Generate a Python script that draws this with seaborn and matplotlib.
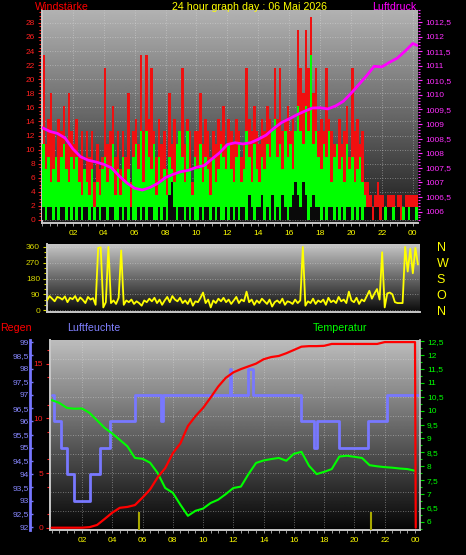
import numpy as np
import matplotlib
matplotlib.use("Agg")
import matplotlib.pyplot as plt
from matplotlib.ticker import FixedLocator, FuncFormatter, MultipleLocator
import seaborn as sns

# ---- wind, 10 minute values (km/h) ----
wind_gust = [
    23.4, 10.8, 14.4, 18.0, 12.6, 9.0,
    14.4, 12.6, 16.2, 10.8, 18.0, 12.6,
    10.8, 14.4, 9.0, 12.6, 7.2, 12.6,
    9.0, 12.6, 5.4, 10.8, 7.2, 9.0,
    21.6, 10.8, 12.6, 16.2, 9.0, 12.6,
    7.2, 12.6, 9.0, 18.0, 5.4, 12.6,
    14.4, 10.8, 23.4, 12.6, 23.4, 14.4,
    21.6, 12.6, 9.0, 14.4, 10.8, 12.6,
    7.2, 18.0, 10.8, 14.4, 9.0, 12.6,
    21.6, 10.8, 14.4, 12.6, 5.4, 12.6,
    12.6, 18.0, 10.8, 14.4, 12.6, 9.0,
    12.6, 10.8, 14.4, 12.6, 16.2, 10.8,
    14.4, 12.6, 10.8, 14.4, 12.6, 9.0,
    10.8, 21.6, 14.4, 12.6, 16.2, 12.6,
    10.8, 14.4, 12.6, 16.2, 14.4, 12.6,
    21.6, 14.4, 21.6, 12.6, 14.4, 16.2,
    12.6, 14.4, 10.8, 27.0, 21.6, 18.0,
    27.0, 21.6, 28.8, 18.0, 21.6, 12.6,
    14.4, 12.6, 21.6, 14.4, 12.6, 10.8,
    9.0, 14.4, 10.8, 12.6, 16.2, 9.0,
    21.6, 12.6, 14.4, 10.8, 12.6, 5.4,
    5.4, 3.6, 1.8, 3.6, 5.4, 3.6,
    3.6, 1.8, 3.6, 3.6, 3.6, 1.8,
    3.6, 3.6, 1.8, 3.6, 3.6, 3.6,
    3.6, 3.6,
]
wind_speed = [
    10.8, 7.2, 9.0, 5.4, 7.2, 9.0,
    5.4, 9.0, 10.8, 7.2, 5.4, 9.0,
    7.2, 9.0, 5.4, 3.6, 7.2, 5.4,
    3.6, 7.2, 1.8, 5.4, 3.6, 7.2,
    9.0, 5.4, 7.2, 10.8, 3.6, 7.2,
    3.6, 9.0, 5.4, 7.2, 1.8, 9.0,
    10.8, 7.2, 12.6, 5.4, 12.6, 9.0,
    7.2, 10.8, 3.6, 9.0, 5.4, 7.2,
    3.6, 9.0, 7.2, 5.4, 10.8, 12.6,
    9.0, 5.4, 12.6, 7.2, 3.6, 9.0,
    7.2, 10.8, 5.4, 9.0, 7.2, 3.6,
    9.0, 5.4, 7.2, 10.8, 9.0, 7.2,
    10.8, 7.2, 5.4, 9.0, 10.8, 5.4,
    7.2, 12.6, 9.0, 5.4, 10.8, 7.2,
    5.4, 9.0, 7.2, 10.8, 9.0, 12.6,
    14.4, 9.0, 10.8, 7.2, 12.6, 9.0,
    10.8, 7.2, 12.6, 16.2, 12.6, 10.8,
    16.2, 12.6, 23.4, 10.8, 12.6, 9.0,
    7.2, 10.8, 9.0, 12.6, 5.4, 9.0,
    10.8, 7.2, 9.0, 5.4, 10.8, 7.2,
    9.0, 5.4, 7.2, 9.0, 5.4, 3.6,
    1.8, 0.0, 0.0, 1.8, 0.0, 0.0,
    0.0, 1.8, 0.0, 0.0, 1.8, 0.0,
    0.0, 0.0, 1.8, 0.0, 1.8, 0.0,
    0.0, 1.8,
]
wind_lull = [
    1.8, 0, 1.8, 1.8, 0, 1.8,
    0, 1.8, 1.8, 0, 1.8, 0,
    1.8, 0, 1.8, 0, 1.8, 1.8,
    0, 1.8, 0, 1.8, 0, 1.8,
    1.8, 0, 1.8, 1.8, 0, 0,
    1.8, 0, 1.8, 0, 1.8, 0,
    0, 1.8, 0, 1.8, 0, 1.8,
    1.8, 0, 0, 1.8, 0, 1.8,
    0, 3.6, 5.4, 1.8, 0, 1.8,
    1.8, 0, 1.8, 0, 1.8, 0,
    0, 1.8, 0, 1.8, 1.8, 0,
    1.8, 0, 1.8, 0, 0, 1.8,
    0, 1.8, 0, 1.8, 0, 1.8,
    1.8, 0, 3.6, 1.8, 0, 1.8,
    1.8, 3.6, 0, 1.8, 0, 3.6,
    0, 1.8, 0, 3.6, 1.8, 0,
    1.8, 3.6, 5.4, 3.6, 1.8, 5.4,
    3.6, 0, 1.8, 3.6, 1.8, 1.8,
    0, 1.8, 0, 1.8, 1.8, 0,
    1.8, 0, 1.8, 0, 1.8, 1.8,
    0, 1.8, 0, 1.8, 0, 1.8,
    1.8, 1.8, 0, 1.8, 1.8, 0,
    1.8, 0, 1.8, 1.8, 0, 1.8,
    1.8, 0, 0, 1.8, 0, 1.8,
    1.8, 0,
]

# ---- air pressure, half-hourly (hPa) ----
pressure_hpa = [
    1008.88, 1008.75, 1008.68, 1008.52, 1008.15, 1007.88, 1007.76, 1007.70,
    1007.62, 1007.50, 1007.22, 1006.98, 1006.80, 1006.74, 1006.83, 1006.97,
    1007.17, 1007.28, 1007.37, 1007.42, 1007.52, 1007.58, 1007.80, 1008.02,
    1008.30, 1008.36, 1008.32, 1008.36, 1008.48, 1008.62, 1008.85, 1009.05,
    1009.18, 1009.32, 1009.44, 1009.55, 1009.56, 1009.52, 1009.62, 1009.78,
    1010.05, 1010.35, 1010.65, 1010.98, 1010.96, 1011.12, 1011.26, 1011.50,
    1011.76, 1011.65,
]

# ---- wind direction, 10 minute values (degrees) ----
wind_dir = [
    55, 80, 65, 50, 75, 70,
    60, 78, 45, 70, 62, 80,
    50, 72, 58, 40, 75, 60,
    68, 30, 355, 358, 15, 45,
    360, 40, 55, 35, 70, 340,
    30, 55, 45, 60, 35, 50,
    40, 25, 55, 45, 65, 50,
    70, 40, 60, 30, 55, 75,
    45, 80, 60, 50, 70, 40,
    55, 35, 65, 25, 50, 45,
    70, 100, 40, 60, 15, 55,
    40, 65, 50, 70, 45, 60,
    35, 55, 75, 40, 60, 50,
    105, 45, 60, 30, 55, 40,
    65, 50, 35, 60, 20, 45,
    55, 40, 65, 30, 50, 45,
    35, 60, 40, 55, 360, 25,
    50, 40, 65, 35, 55, 45,
    60, 30, 70, 45, 55, 40,
    75, 50, 60, 40, 105, 55,
    45, 70, 35, 60, 50, 80,
    110, 65, 95, 120, 60, 330,
    15, 95, 100, 90, 45, 40,
    40, 40, 360, 220, 350, 210,
    355, 260,
]

# ---- humidity steps (hour of change, %) ----
hum_hours = [0.05, 0.15, 0.6, 1.0, 1.45, 2.55, 3.2, 3.85, 5.5, 7.25, 7.35,
             11.75, 11.85, 12.95, 13.3, 16.5, 17.3, 17.5, 18.95, 20.9, 22.15, 24.25]
humidity = [97, 96, 95, 94, 93, 94, 95, 96, 97, 96, 97,
            98, 97, 98, 97, 96, 95, 96, 95, 96, 97, 97]

# ---- temperature and rain, half-hourly ----
temperature = [
    10.38, 10.28, 10.10, 10.07, 10.08, 9.92, 9.65, 9.38, 9.18, 8.95,
    8.72, 8.30, 8.27, 8.13, 7.76, 7.22, 7.05, 6.62, 6.22, 6.40,
    6.48, 6.68, 6.80, 7.00, 7.22, 7.27, 7.72, 8.12, 8.21, 8.26,
    8.30, 8.20, 8.45, 8.52, 8.02, 7.72, 7.80, 7.90, 8.35, 8.38,
    8.34, 8.30, 8.04, 8.00, 7.97, 7.95, 7.92, 7.90, 7.84,
]
rain_total = [
    0, 0, 0, 0, 0, 0.05, 0.25, 0.8, 1.37, 1.82,
    1.9, 2.07, 2.75, 3.5, 4.6, 5.45, 6.8, 7.7, 9.3, 10.2,
    10.95, 11.9, 12.9, 13.7, 14.2, 14.5, 14.75, 15.0, 15.4, 15.6,
    15.7, 15.95, 16.25, 16.55, 16.6, 16.6, 16.63, 16.8, 16.8, 16.8,
    16.8, 16.8, 16.8, 16.8, 16.97, 16.97, 16.97, 16.97, 16.97, 0,
]
rain_rate_hours = [5.77, 21.07]
rain_rate = [1.4, 1.4]

hour_ticks = [2, 4, 6, 8, 10, 12, 14, 16, 18, 20, 22, 24]
hour_labels = ["02", "04", "06", "08", "10", "12", "14", "16", "18", "20", "22", "00"]

bar_hours = np.arange(len(wind_gust)) / 6
dir_hours = np.arange(len(wind_dir)) / 6
pressure_hours = np.arange(len(pressure_hpa)) * 0.5
temp_hours = np.arange(len(temperature)) * 0.5
rain_hours = np.append(np.arange(len(rain_total) - 1) * 0.5, 24.05)

sns.set_theme(context="paper", style="ticks",
              rc={"figure.facecolor": "black", "axes.facecolor": "black",
                  "axes.axisbelow": True, "savefig.facecolor": "black"})
plt.rcParams["font.family"] = ["Liberation Sans", "DejaVu Sans"]

W, H = 466, 555
fig = plt.figure(figsize=(W / 100, H / 100), dpi=100)


def px_axes(left, top, right, bottom):
    return fig.add_axes([left / W, 1 - bottom / H, (right - left) / W, (bottom - top) / H])


def comma_fmt(v, _pos):
    return f"{v:g}".replace(".", ",")


def shade(ax, top, bottom):
    x0, x1 = ax.get_xlim()
    y0, y1 = ax.get_ylim()
    grad = np.linspace(top, bottom, 256).reshape(-1, 1)
    ax.imshow(grad, cmap="gray", vmin=0, vmax=1, aspect="auto",
              extent=(x0, x1, y0, y1), zorder=0, interpolation="bilinear")
    ax.set_xlim(x0, x1)
    ax.set_ylim(y0, y1)


def hide_spines(ax):
    for s in ax.spines.values():
        s.set_visible(False)


GRID = dict(color="#e0e0e0", linestyle=(0, (1, 2)), linewidth=0.6, alpha=0.55)
SPINE = "#c8c8c8"

# ================= panel 1: wind speed / gusts + pressure =================
ax1 = px_axes(42, 10, 418, 223)
ax1.set_xlim(0, 24.34)
ax1.set_ylim(-0.43, 29.83)
shade(ax1, 0.70, 0.10)
ax1.bar(bar_hours, wind_gust, width=1 / 6, align="edge", color="#f01010", lw=0, zorder=2)
ax1.bar(bar_hours, wind_speed, width=1 / 6, align="edge", color="#00ff00", lw=0, zorder=3)
ax1.bar(bar_hours, wind_lull, width=1 / 6, align="edge", color="#0a0a0a", lw=0, zorder=4)
ax1.yaxis.set_major_locator(MultipleLocator(2))
ax1.yaxis.set_minor_locator(MultipleLocator(0.5))
ax1.set_xticks(hour_ticks, hour_labels)
ax1.xaxis.set_minor_locator(MultipleLocator(0.5))
ax1.tick_params(axis="y", which="both", colors="#ff2020", labelsize=6, pad=2)
ax1.tick_params(axis="y", which="major", length=3, width=0.8)
ax1.tick_params(axis="y", which="minor", length=2, width=0.8)
ax1.tick_params(axis="x", which="both", colors="#a0a0a0", labelcolor="#ffff00",
                labelsize=6, pad=2.5, length=2.5, width=0.7)
ax1.grid(True, which="major", **GRID)
hide_spines(ax1)
for side in ("left", "bottom"):
    ax1.spines[side].set_visible(True)
    ax1.spines[side].set_color(SPINE)
    ax1.spines[side].set_linewidth(1.4)

axp = ax1.twinx()
sns.lineplot(x=pressure_hours, y=pressure_hpa, ax=axp, color="#ff00ff", linewidth=2.0, zorder=5)
axp.set_xlim(0, 24.34)
axp.set_ylim(1005.61, 1012.91)
axp.set_ylabel("")
axp.yaxis.set_major_locator(MultipleLocator(0.5))
axp.yaxis.set_minor_locator(MultipleLocator(0.1))
axp.yaxis.set_major_formatter(FuncFormatter(comma_fmt))
axp.tick_params(axis="y", which="both", colors="#ff30ff", labelsize=6, pad=2, width=0.8)
axp.tick_params(axis="y", which="major", length=3)
axp.tick_params(axis="y", which="minor", length=1.5)
hide_spines(axp)

# ================= panel 2: wind direction =================
ax2 = px_axes(47, 244, 420, 312)
ax2.set_xlim(0, 24.3)
ax2.set_ylim(-11, 377)
shade(ax2, 0.78, 0.04)
sns.lineplot(x=dir_hours, y=wind_dir, ax=ax2, color="#ffff00", linewidth=1.3, zorder=3)
ax2.set_ylabel("")
ax2.set_yticks([0, 90, 180, 270, 360])
ax2.yaxis.set_minor_locator(MultipleLocator(30))
ax2.tick_params(axis="y", which="both", colors="#d8d800", labelsize=6, pad=2, width=0.8)
ax2.tick_params(axis="y", which="major", length=3)
ax2.tick_params(axis="y", which="minor", length=2)
ax2.tick_params(axis="x", which="both", length=0, labelbottom=False)
ax2.grid(True, axis="y", **GRID)
hide_spines(ax2)
for side in ("left", "bottom"):
    ax2.spines[side].set_visible(True)
    ax2.spines[side].set_color(SPINE)
    ax2.spines[side].set_linewidth(1.4)

axd = ax2.twinx()
axd.set_ylim(-11, 377)
axd.set_yticks([0, 90, 180, 270, 360], ["N", "O", "S", "W", "N"])
axd.tick_params(axis="y", length=0, pad=12, labelsize=9, labelcolor="#ffff00")
hide_spines(axd)

# ================= panel 3: humidity, temperature, rain =================
ax3 = px_axes(50, 340, 420, 530)
ax3.set_xlim(-0.11, 24.33)
ax3.set_ylim(91.89, 99.08)
shade(ax3, 0.74, 0.02)
for y in np.linspace(91.89, 99.08, 11)[1:-1]:
    ax3.axhline(y, zorder=0.5, **GRID)
ax3.grid(True, axis="x", **GRID)
sns.lineplot(x=hum_hours, y=humidity, ax=ax3, color="#7878ff", linewidth=2.0,
             drawstyle="steps-post", zorder=3)
ax3.set_ylabel("")
ax3.yaxis.set_major_locator(MultipleLocator(0.5))
ax3.yaxis.set_major_formatter(FuncFormatter(comma_fmt))
ax3.tick_params(axis="y", colors="#7676ff", labelcolor="#8888ff", labelsize=6,
                direction="in", length=2, pad=1)
ax3.set_xticks(hour_ticks, hour_labels)
ax3.xaxis.set_minor_locator(MultipleLocator(0.5))
ax3.tick_params(axis="x", which="both", colors="#a0a0a0", labelcolor="#ffff00",
                labelsize=6, pad=2.5, length=2.5, width=0.7)
hide_spines(ax3)
ax3.spines["left"].set_visible(True)
ax3.spines["left"].set_position(("axes", -0.054))
ax3.spines["left"].set_color("#7676ff")
ax3.spines["left"].set_linewidth(2)
ax3.spines["bottom"].set_visible(True)
ax3.spines["bottom"].set_color(SPINE)
ax3.spines["bottom"].set_linewidth(1.4)

axt = ax3.twinx()
sns.lineplot(x=temp_hours, y=temperature, ax=axt, color="#00ff00", linewidth=1.5, zorder=4)
axt.set_xlim(-0.11, 24.33)
axt.set_ylim(5.71, 12.54)
axt.set_ylabel("")
axt.yaxis.set_major_locator(MultipleLocator(0.5))
axt.yaxis.set_minor_locator(MultipleLocator(0.25))
axt.yaxis.set_major_formatter(FuncFormatter(comma_fmt))
axt.tick_params(axis="y", which="both", colors="#00e000", labelcolor="#00ff00",
                labelsize=6, pad=2, width=0.8)
axt.tick_params(axis="y", which="major", length=3)
axt.tick_params(axis="y", which="minor", length=1.5)
hide_spines(axt)
axt.spines["right"].set_visible(True)
axt.spines["right"].set_color(SPINE)
axt.spines["right"].set_linewidth(1.2)

axr = ax3.twinx()
axr.set_xlim(-0.11, 24.33)
axr.set_ylim(-0.21, 17.16)
sns.lineplot(x=rain_hours, y=rain_total, ax=axr, color="#ff0000", linewidth=1.6, zorder=5)
axr.vlines(rain_rate_hours, axr.get_ylim()[0], rain_rate, color="#a8a800", linewidth=1.5, zorder=2)
axr.set_xlim(-0.11, 24.33)
axr.set_ylim(-0.21, 17.16)
axr.set_ylabel("")
axr.yaxis.set_ticks_position("left")
axr.yaxis.set_label_position("left")
axr.set_yticks([0, 5, 10, 15])
axr.yaxis.set_minor_locator(FixedLocator(np.arange(1.25, 17, 2.5)))
axr.tick_params(axis="y", which="both", colors="#ff2020", labelsize=6, pad=2, width=0.8)
axr.tick_params(axis="y", which="major", length=3)
axr.tick_params(axis="y", which="minor", length=2)
hide_spines(axr)
axr.spines["left"].set_visible(True)
axr.spines["left"].set_color(SPINE)
axr.spines["left"].set_linewidth(1.4)

# ================= header texts =================
TXT = dict(fontsize=7.7, va="baseline")
fig.text(35 / W, 1 - 9.5 / H, "Windstärke", color="#ff0000", ha="left", **TXT)
fig.text(249 / W, 1 - 9.5 / H, "24 hour graph day : 06 Mai 2026", color="#ffff00", ha="center", **TXT)
fig.text(372 / W, 1 - 9.5 / H, "Luftdruck", color="#ff00ff", ha="left", **TXT)
fig.text(0, 1 - 331 / H, "Regen", color="#ff0000", ha="left", **TXT)
fig.text(67 / W, 1 - 331 / H, "Luftfeuchte", color="#8080ff", ha="left", **TXT)
fig.text(313 / W, 1 - 331 / H, "Temperatur", color="#00ff00", ha="left", **TXT)

fig.savefig("out.png", dpi=100, facecolor="black")
